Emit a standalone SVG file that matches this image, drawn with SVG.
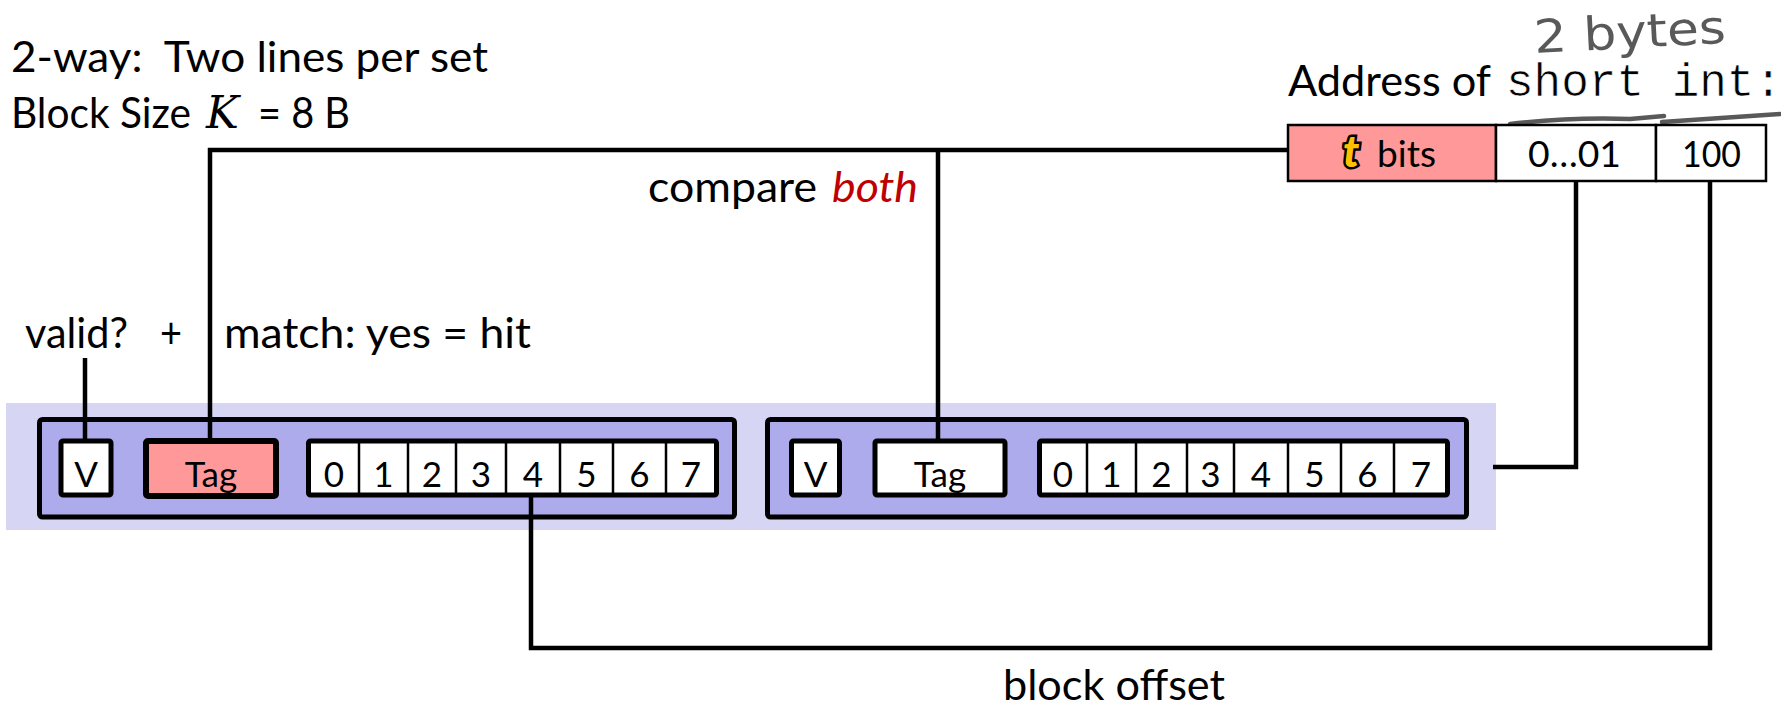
<svg xmlns="http://www.w3.org/2000/svg" width="1781" height="706" viewBox="0 0 1781 706">
  <style>
    .txt { font-family: Lato, "Open Sans", "Liberation Sans", sans-serif; font-size: 42px; fill: #000; }
    .cell { font-family: Lato, "Open Sans", "Liberation Sans", sans-serif; font-size: 35px; fill: #000; text-anchor: middle; }
    .addr { font-family: Lato, "Open Sans", "Liberation Sans", sans-serif; font-size: 36px; fill: #000; }
    .mono { font-family: "Liberation Mono", "Courier New", monospace; font-size: 46px; fill: #000; stroke: #FFF; stroke-width: 0.6; }
    .band { fill: #D6D6F4; }
    .line { fill: #ADABEB; stroke: #000; stroke-width: 5; }
    .box { fill: #FFF; stroke: #000; stroke-width: 5; }
    .tag { fill: #FF9999; stroke: #000; stroke-width: 6; }
    .div { stroke: #000; stroke-width: 2.5; }
    .abox { fill: #FFF; stroke: #000; stroke-width: 2.5; }
    .abox.red { fill: #FF9999; }
    .wire { fill: none; stroke: #000; stroke-width: 4.5; stroke-linejoin: miter; }
    .ink { fill: none; stroke: #595959; stroke-width: 4.5; stroke-linecap: round; stroke-linejoin: round; }
  </style>

  <!-- heading -->
  <g id="heading">
    <text class="txt" x="11" y="72" xml:space="preserve" textLength="477" lengthAdjust="spacingAndGlyphs">2-way:  Two lines per set</text>
    <text class="txt" y="128">
      <tspan x="11" textLength="180" lengthAdjust="spacingAndGlyphs">Block Size</tspan>
      <tspan x="206" style="font-family: 'DejaVu Serif', 'Liberation Serif', serif; font-style: italic; font-size: 44px;">K</tspan>
      <tspan x="258" textLength="92" lengthAdjust="spacingAndGlyphs">= 8 B</tspan>
    </text>
  </g>

  <!-- set: background band holding both lines -->
  <rect id="set" class="band" x="6" y="403" width="1490" height="127"/>

  <!-- line 0 -->
  <g id="line0">
    <rect class="line" x="39.5" y="419.5" width="695" height="97.5" rx="3"/>
    <rect class="box" x="61" y="441" width="50" height="54" rx="2"/>
    <text class="cell" x="86" y="487">V</text>
    <rect class="tag" x="146" y="441" width="130" height="55" rx="2"/>
    <text class="cell" x="211" y="487">Tag</text>
    <rect class="box" x="308.5" y="441" width="408" height="54" rx="2"/>
    <g class="div">
      <line x1="359" y1="441" x2="359" y2="495"/>
      <line x1="408" y1="441" x2="408" y2="495"/>
      <line x1="456" y1="441" x2="456" y2="495"/>
      <line x1="506" y1="441" x2="506" y2="495"/>
      <line x1="560" y1="441" x2="560" y2="495"/>
      <line x1="613" y1="441" x2="613" y2="495"/>
      <line x1="666" y1="441" x2="666" y2="495"/>
    </g>
    <text class="cell" x="334" y="487">0</text>
    <text class="cell" x="383.5" y="487">1</text>
    <text class="cell" x="432" y="487">2</text>
    <text class="cell" x="481" y="487">3</text>
    <text class="cell" x="533" y="487">4</text>
    <text class="cell" x="586.5" y="487">5</text>
    <text class="cell" x="639.5" y="487">6</text>
    <text class="cell" x="691" y="487">7</text>
  </g>

  <!-- line 1 -->
  <g id="line1">
    <rect class="line" x="767.5" y="419.5" width="699" height="97.5" rx="3"/>
    <rect class="box" x="791.5" y="441" width="48" height="54" rx="2"/>
    <text class="cell" x="815.5" y="487">V</text>
    <rect class="box" x="875" y="441" width="130" height="54" rx="2"/>
    <text class="cell" x="940" y="487">Tag</text>
    <rect class="box" x="1039.5" y="441" width="408" height="54" rx="2"/>
    <g class="div">
      <line x1="1087" y1="441" x2="1087" y2="495"/>
      <line x1="1136" y1="441" x2="1136" y2="495"/>
      <line x1="1187" y1="441" x2="1187" y2="495"/>
      <line x1="1234" y1="441" x2="1234" y2="495"/>
      <line x1="1288" y1="441" x2="1288" y2="495"/>
      <line x1="1341" y1="441" x2="1341" y2="495"/>
      <line x1="1394" y1="441" x2="1394" y2="495"/>
    </g>
    <text class="cell" x="1063" y="487">0</text>
    <text class="cell" x="1111.5" y="487">1</text>
    <text class="cell" x="1161.5" y="487">2</text>
    <text class="cell" x="1210.5" y="487">3</text>
    <text class="cell" x="1261" y="487">4</text>
    <text class="cell" x="1314.5" y="487">5</text>
    <text class="cell" x="1367.5" y="487">6</text>
    <text class="cell" x="1421" y="487">7</text>
  </g>

  <!-- address being looked up -->
  <g id="address">
    <text class="txt" x="1288" y="96" textLength="203" lengthAdjust="spacingAndGlyphs">Address of</text>
    <text class="mono" x="1506" y="96" xml:space="preserve">short int:</text>
    <path class="ink" d="M1510,124 Q1570,117 1630,119 L1664,116 M1662,122 Q1720,118 1780,114"/>
    <text x="1534" y="48" textLength="192" lengthAdjust="spacingAndGlyphs" transform="rotate(-3 1630 35)"
          style="font-family: 'DejaVu Sans', sans-serif; font-size: 46px; fill: #595959;">2 bytes</text>
    <rect class="abox red" x="1288" y="125" width="208" height="56"/>
    <rect class="abox" x="1496" y="125" width="160" height="56"/>
    <rect class="abox" x="1656" y="125" width="110" height="56"/>
    <text class="addr" x="1343" y="167" style="font-weight: 900; font-style: italic; font-size: 44px; fill: #FFC000; stroke: #000; stroke-width: 5; paint-order: stroke;">t</text>
    <text class="addr" x="1377" y="167" textLength="59" lengthAdjust="spacingAndGlyphs">bits</text>
    <text class="addr" x="1528" y="167" textLength="93" lengthAdjust="spacingAndGlyphs">0…01</text>
    <text class="addr" x="1682" y="167" textLength="59" lengthAdjust="spacingAndGlyphs">100</text>
  </g>

  <!-- connectors -->
  <g id="connectors" class="wire">
    <path d="M1288,150 H210 V439"/>
    <path d="M938,150 V439"/>
    <path d="M85,358 V439"/>
    <path d="M1576,181 V467 H1493"/>
    <path d="M1710,181 V648 H531 V497"/>
  </g>

  <!-- labels -->
  <g id="labels">
    <text class="txt" x="648" y="202" textLength="169" lengthAdjust="spacingAndGlyphs">compare</text>
    <text class="txt" x="832" y="202" textLength="86" lengthAdjust="spacingAndGlyphs" style="font-style: italic; fill: #C00000;">both</text>
    <text class="txt" x="25" y="348" textLength="103" lengthAdjust="spacingAndGlyphs">valid?</text>
    <text class="txt" x="160" y="348" textLength="22" lengthAdjust="spacingAndGlyphs">+</text>
    <text class="txt" x="224" y="348" textLength="307" lengthAdjust="spacingAndGlyphs">match: yes = hit</text>
    <text class="txt" x="1003" y="700" textLength="222" lengthAdjust="spacingAndGlyphs">block offset</text>
  </g>
</svg>
